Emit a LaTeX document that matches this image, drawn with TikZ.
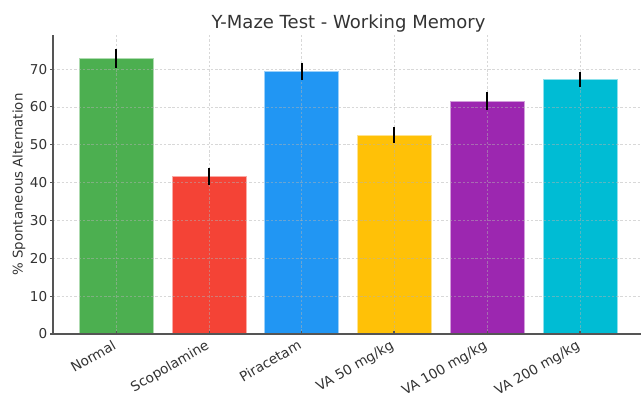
\documentclass[tikz,border=0pt]{standalone}
\usepackage{fontspec}
\setmainfont{DejaVu Sans}
\definecolor{bgreen}{HTML}{4CAF50}
\definecolor{bred}{HTML}{F44336}
\definecolor{bblue}{HTML}{2196F3}
\definecolor{bamber}{HTML}{FFC107}
\definecolor{bpurple}{HTML}{9C27B0}
\definecolor{bcyan}{HTML}{00BCD4}
\definecolor{txt}{HTML}{333333}
\definecolor{spine}{HTML}{555555}
\begin{document}
\begin{tikzpicture}[x=0.75pt,y=-0.75pt,
  barbox/.style={draw=white!55!#1, line width=0.6pt, fill=#1},
  gridline/.style={draw=black!30, line width=0.5pt, dash pattern=on 1.8pt off 1.4pt, opacity=0.5},
  errbar/.style={draw=black, line width=1.5pt},
  spineline/.style={draw=spine, line width=1.1pt},
  tickline/.style={draw=spine, line width=0.8pt},
  ticklab/.style={text=txt, font=\fontsize{10.2}{12}\selectfont, inner sep=0pt},
  titlelab/.style={text=txt, font=\fontsize{13.5}{16}\selectfont, inner sep=0pt},
  axlab/.style={text=txt, font=\fontsize{10}{12}\selectfont, inner sep=0pt}]
\useasboundingbox (0,0) rectangle (641,394);
% bars
\foreach \cx/\val/\err/\col/\nm in {116.3/72.8/2.4/bgreen/a,209.3/41.6/2.2/bred/b,301.7/69.4/2.3/bblue/c,394/52.6/2.1/bamber/d,487.3/61.5/2.4/bpurple/e,580/67.2/2.0/bcyan/f}{
  \path[barbox=\col] (\cx-37,334) rectangle (\cx+37,{334-3.785*\val});
}
% grid
\foreach \v in {10,20,...,70}{
  \draw[gridline] (53,{334-3.785*\v}) -- (641,{334-3.785*\v});
}
\foreach \cx in {116.3,209.3,301.7,394,487.3,580}{
  \draw[gridline] (\cx,35) -- (\cx,334);
}
% error bars
\foreach \cx/\val/\err/\nm in {116.3/72.8/2.4/a,209.3/41.6/2.2/b,301.7/69.4/2.3/c,394/52.6/2.1/d,487.3/61.5/2.4/e,580/67.2/2.0/f}{
  \coordinate (et\nm) at (\cx,{334-3.785*(\val+\err)});
  \coordinate (eb\nm) at (\cx,{334-3.785*(\val-\err)});
  \draw[errbar] (et\nm) -- (eb\nm);
}
% spines
\coordinate (otop) at (53,35);
\coordinate (orig) at (53,334);
\coordinate (oright) at (641,334);
\draw[spineline] (otop) -- (orig) -- (oright);
% y ticks and labels
\foreach \v in {0,10,...,70}{
  \coordinate (yt\v) at (53,{334-3.785*\v});
  \draw[tickline] (yt\v) -- ++(-3.5,0);
  \node[ticklab, anchor=east] (yl\v) at (47.5,{334-3.785*\v}) {\v};
}
% x ticks and labels
\foreach \cx/\lab/\nm in {116.3/Normal/a,209.3/Scopolamine/b,301.7/Piracetam/c,394/VA 50 mg\slash kg/d,487.3/VA 100 mg\slash kg/e,580/VA 200 mg\slash kg/f}{
  \coordinate (xt\nm) at (\cx,334);
  \draw[tickline] (xt\nm) -- ++(0,-3.5);
  \node[ticklab, rotate=30, anchor=north east] (xl\nm) at (\cx-4.5,339) {\lab};
}
% titles
\node[titlelab, anchor=base] (title) at (348.5,28) {Y-Maze Test - Working Memory};
\node[axlab, rotate=90] (ylab) at (19,184.5) {\% Spontaneous Alternation};
\end{tikzpicture}
\end{document}
